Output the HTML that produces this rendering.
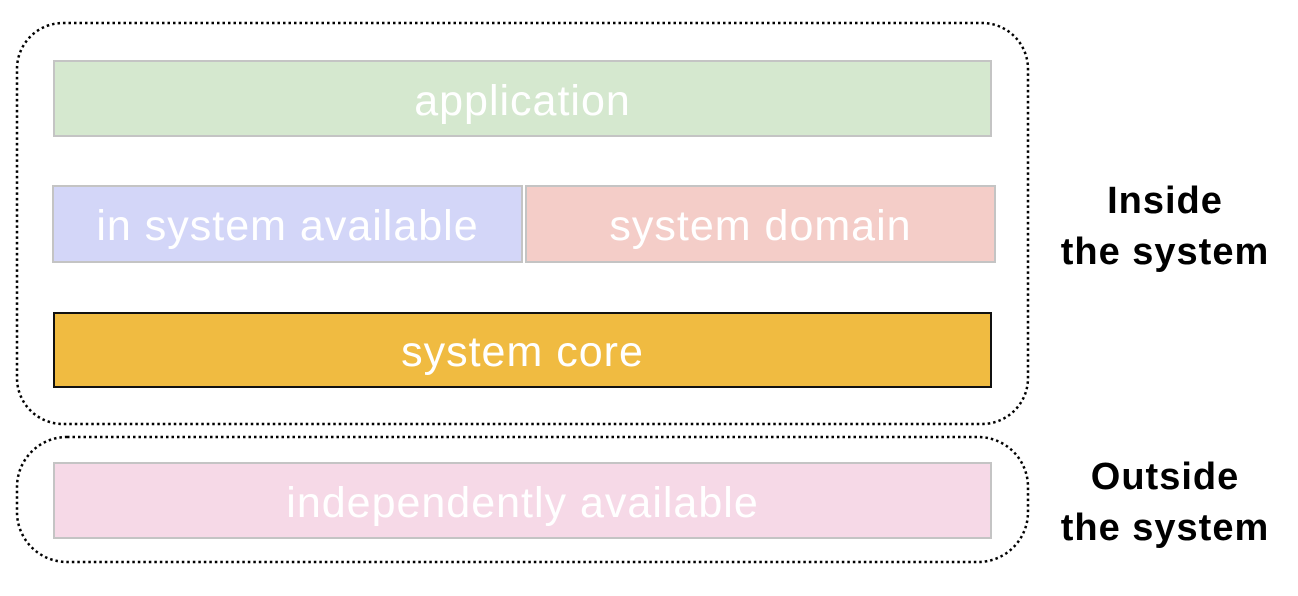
<!DOCTYPE html>
<html><head><style>
body{margin:0;width:1298px;height:596px;background:#fff;position:relative;overflow:hidden;font-family:"Liberation Sans",Arial,sans-serif}
.b{position:absolute;box-sizing:border-box;border:2px solid #c4c4c4;color:#fff;font-size:43px;letter-spacing:1px;display:flex;align-items:center;justify-content:center;padding-top:5px}
.r{position:absolute;font-weight:bold;font-size:38px;letter-spacing:1px;text-align:center;line-height:51px;color:#000;width:280px;left:1025px}
</style></head><body>
<svg width="1298" height="596" style="position:absolute;left:0;top:0">
<rect x="17" y="23" width="1011" height="401" rx="46" fill="none" stroke="#000" stroke-width="2.5" stroke-dasharray="2.5 3"/>
<rect x="17" y="437" width="1011" height="125" rx="50" fill="none" stroke="#000" stroke-width="2.5" stroke-dasharray="2.5 3"/>
</svg>
<div class="b" style="left:53px;top:60px;width:939px;height:77px;background:#d5e8cf">application</div>
<div class="b" style="left:52px;top:185px;width:471px;height:78px;background:#d3d6f8">in system available</div>
<div class="b" style="left:525px;top:185px;width:471px;height:78px;background:#f4cdc8">system domain</div>
<div class="b" style="left:53px;top:312px;width:939px;height:76px;background:#f0bb41;border-color:#111">system core</div>
<div class="b" style="left:53px;top:462px;width:939px;height:77px;background:#f6d9e7">independently available</div>
<div class="r" style="top:176px">Inside<br>the system</div>
<div class="r" style="top:452px">Outside<br>the system</div>
</body></html>
